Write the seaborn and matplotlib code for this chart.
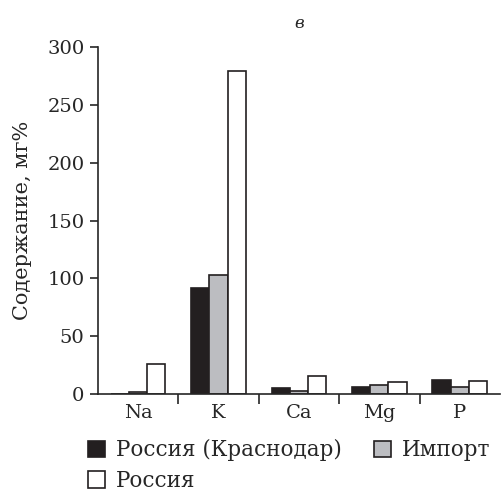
import pandas as pd
import matplotlib.pyplot as plt
import seaborn as sns

elements = ['Na', 'K', 'Ca', 'Mg', 'P']
krasnodar = [0, 92, 5, 6.5, 12]
imports = [2, 103, 3, 8, 6]
russia = [26, 279, 16, 10, 11.5]
series_names = ['Россия (Краснодар)', 'Импорт', 'Россия']
colors = ['#231f20', '#bcbdc1', '#ffffff']

df = pd.DataFrame({'Element': elements * 3,
                   'Value': krasnodar + imports + russia,
                   'Series': [s for s in series_names for _ in elements]})

sns.set_style('ticks')
plt.rcParams['font.family'] = ['DejaVu Serif']

fig = plt.figure(figsize=(5.04, 4.95), dpi=100)
ax = fig.add_axes([0.194, 0.204, 0.798, 0.701])
sns.barplot(data=df, x='Element', y='Value', hue='Series', order=elements,
            hue_order=series_names, palette=colors, width=0.68, gap=0,
            edgecolor='#231f20', linewidth=1.2, saturation=1, ax=ax)

ax.set_xlim(-0.5, 4.5)
ax.set_ylim(0, 300)
ax.set_yticks([0, 50, 100, 150, 200, 250, 300])
ax.set_xticks([0.5, 1.5, 2.5, 3.5], minor=True)
ax.tick_params(axis='x', which='major', length=0, labelsize=14, pad=7)
ax.tick_params(axis='x', which='minor', length=7, width=1.2, direction='out')
ax.tick_params(axis='y', labelsize=14, length=6, width=1.2)
ax.set_xlabel('')
ax.set_ylabel('Содержание, мг%', fontsize=15, labelpad=11)
ax.set_title('в', fontsize=12, style='italic', pad=14)
for s in ['left', 'bottom']:
    ax.spines[s].set_linewidth(1.2)
sns.despine(ax=ax)

handles, labels = ax.get_legend_handles_labels()
ax.legend([handles[0], handles[2], handles[1]], [labels[0], labels[2], labels[1]],
          ncol=2, loc='upper left', bbox_to_anchor=(-0.025, -0.13), frameon=False,
          fontsize=15.5, handlelength=0.8, handleheight=0.8, handletextpad=0.5,
          columnspacing=1.5, labelspacing=0.4, borderaxespad=0, borderpad=0)

fig.savefig('out.png', dpi=100)
